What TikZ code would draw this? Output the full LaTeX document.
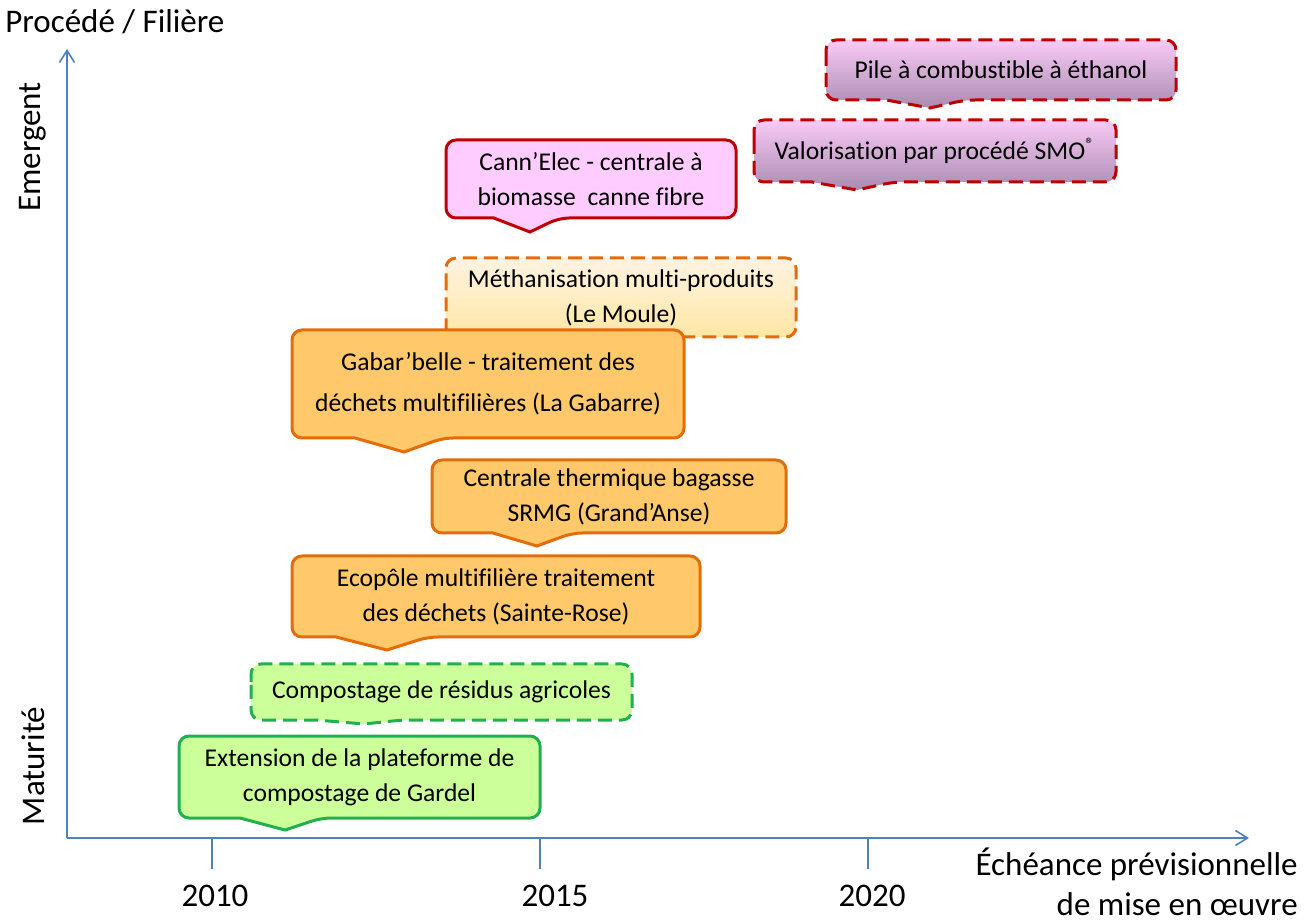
\documentclass[tikz,border=0pt]{standalone}
\usepackage{fontspec}
\setmainfont{Carlito}[Ligatures=NoCommon]
\usetikzlibrary{arrows.meta}
\definecolor{cred}{HTML}{C00000}
\definecolor{pinkF}{HTML}{FFCCFF}
\definecolor{pinkT}{HTML}{F9CAF6}
\definecolor{pinkB}{HTML}{A98BB0}
\definecolor{corg}{HTML}{E46C0A}
\definecolor{orgF}{HTML}{FFC86A}
\definecolor{orgT}{HTML}{FFF3E2}
\definecolor{orgB}{HTML}{FFE59C}
\definecolor{cgrn}{HTML}{20B050}
\definecolor{grnF}{HTML}{CCFF99}
\definecolor{caxis}{HTML}{4F81BD}
\newcommand\callout[9]{%
  \pgfmathsetmacro\cbl{#6-(#4-#2)/8}%
  \pgfmathsetmacro\cbr{#6+(#4-#2)/10}%
  \pgfmathsetmacro\ccx{(#2+#4)/2}%
  \pgfmathsetmacro\ccy{(#3+#5)/2}%
  \path[#1] (#2,\ccy) [rounded corners=5pt] -- (#2,#3) -- (#4,#3) -- (#4,#5)
    -- (\cbr,#5) [sharp corners] -- (#6,#7) -- (\cbl,#5) -- (#2+20,#5)
    [rounded corners=5pt] -- (#2,#5) -- cycle;
  \node[ctext] (#8) at (\ccx,\ccy) {#9};%
}
\begin{document}
\begin{tikzpicture}[x=0.5pt,y=-0.5pt,
  ctext/.style={align=center,font=\fontsize{12.8}{17.5}\selectfont,inner sep=0pt},
  lbl/.style={font=\fontsize{16.5}{20}\selectfont,inner sep=0pt},
  bw/.style={line width=1.5pt},
  dsh/.style={dash pattern=on 7pt off 3.5pt},
  redD/.style={bw,dsh,draw=cred,top color=pinkT,bottom color=pinkB},
  redS/.style={bw,draw=cred,fill=pinkF},
  orgD/.style={bw,dsh,draw=corg,top color=orgT,bottom color=orgB},
  orgS/.style={bw,draw=corg,fill=orgF},
  grnD/.style={bw,dsh,draw=cgrn,fill=grnF},
  grnS/.style={bw,draw=cgrn,fill=grnF},
  axis/.style={draw=caxis,line width=0.8pt},
  axarrow/.style={axis,-{Straight Barb[length=6pt,width=7.5pt]}}]
\useasboundingbox (0,0) rectangle (1312,924);
% axes
\coordinate (O) at (67,838);
\coordinate (ytop) at (67,49);
\coordinate (xend) at (1249,838);
\draw[axarrow] (O) -- (ytop);
\draw[axarrow] (O) -- (xend);
\foreach \x/\n in {212/a,540/b,868/c}{
  \coordinate (t\n) at (\x,838);
  \coordinate (tb\n) at (\x,869);
  \draw[axis] (t\n) -- (tb\n);
}
\node[lbl] (y2010) at (215,896) {2010};
\node[lbl] (y2015) at (555,896) {2015};
\node[lbl] (y2020) at (872,896) {2020};
\node[lbl,anchor=west] (proc) at (5,22) {Procédé / Filière};
\node[lbl,rotate=90] (emer) at (33,147) {Emergent};
\node[lbl,rotate=90] (matu) at (33,766) {Maturité};
\node[lbl,anchor=east,align=right] (ech) at (1298,882) {Échéance prévisionnelle\\de mise en œuvre};
% callouts
\callout{redD}{826}{40}{1176}{100}{930}{108}{pile}{Pile à combustible à éthanol}
\callout{redD}{754}{120}{1116}{182}{857}{190}{smo}{Valorisation par procédé SMO\textsuperscript{®}}
\callout{redS}{446}{140}{736}{218}{530}{232}{cann}{Cann’Elec - centrale à\\biomasse\ \ canne fibre}
\callout{orgD}{446}{258}{796}{337}{548}{347}{meth}{Méthanisation multi-produits\\(Le Moule)}
\callout{orgS}{292}{330}{684}{438}{404}{452}{gaba}{Gabar’belle - traitement des\\[3pt]déchets multifilières (La Gabarre)}
\callout{orgS}{432}{460}{786}{533}{537}{546}{cent}{Centrale thermique bagasse\\SRMG (Grand’Anse)}
\callout{orgS}{292}{556}{700}{637}{387}{650}{ecop}{Ecopôle multifilière traitement\\des déchets (Sainte-Rose)}
\callout{grnD}{251}{664}{632}{720}{364}{724}{comp}{Compostage de résidus agricoles}
\callout{grnS}{179}{736}{540}{818}{285}{830}{ext}{Extension de la plateforme de\\compostage de Gardel}
\end{tikzpicture}
\end{document}
